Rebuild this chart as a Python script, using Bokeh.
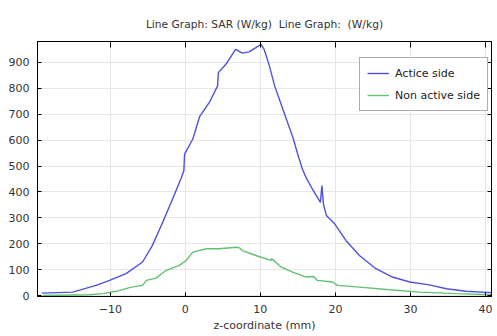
from bokeh.plotting import figure
from bokeh.models import (LinearAxis, Range1d, SingleIntervalTicker, Legend, LegendItem, Title,
                          CustomJSTickFormatter)
from bokeh.embed import file_html
from bokeh.resources import INLINE

# Data
z_active = [-19.1, -15.0, -11.9, -10.1, -7.9, -5.7, -4.4, -3.0, -1.7, -0.6, -0.2, -0.1, 1.0, 1.9,
            3.2, 4.3, 4.4, 5.4, 6.7, 7.6, 8.5, 10.1, 10.5, 11.2, 11.9, 13.0, 14.4, 14.9, 15.6,
            16.1, 16.8, 18.0, 18.2, 18.4, 18.8, 19.9, 21.4, 23.2, 25.4, 27.6, 29.9, 32.5, 34.8,
            37.4, 40.8]
sar_active = [10, 14, 40, 59, 85, 130, 193, 284, 373, 450, 482, 546, 604, 690,
              745, 809, 860, 892, 950, 935, 940, 969, 950, 886, 809, 719, 604, 553, 488,
              455, 418, 360, 425, 354, 309, 277, 213, 155, 104, 72, 53, 42, 27,
              17, 12]

z_nonactive = [-19.0, -12.8, -11.0, -9.2, -7.2, -5.7, -5.2, -3.9, -2.6, -0.8, 0.1, 1.0, 2.8,
               4.5, 6.8, 7.2, 7.6, 9.4, 11.4, 11.5, 12.8, 14.3, 16.1, 17.1, 17.6, 19.6, 20.3,
               23.2, 27.2, 31.2, 36.1, 40.8]
sar_nonactive = [1, 4, 8, 17, 33, 40, 59, 68, 97, 117, 136, 168, 181,
                 181, 187, 185, 174, 155, 136, 143, 110, 91, 72, 74, 59, 53, 40,
                 33, 23, 14, 8, 4]

title_text = "Line Graph: SAR (W/kg)\u00a0\u00a0Line Graph:\u00a0\u00a0(W/kg)"
x_label = "z-coordinate (mm)"
series_names = ["Actice side", "Non active side"]

FONT = "DejaVu Sans"
TXT = "#333333"

p = figure(width=495, height=334, output_backend="svg", toolbar_location=None,
           x_range=Range1d(-19.7, 40.8), y_range=Range1d(-3, 980),
           min_border_left=37, min_border_right=0, min_border_top=41, min_border_bottom=36,
           x_axis_label=x_label)
p.title = Title(text=title_text, align="center", text_font=FONT, text_font_size="10.7px",
                text_font_style="normal", text_color=TXT, vertical_align="top")

p.xaxis.ticker = SingleIntervalTicker(interval=10)
p.yaxis.ticker = SingleIntervalTicker(interval=100)

for ax in [p.xaxis[0], p.yaxis[0]]:
    ax.major_label_text_font = FONT
    ax.major_label_text_font_size = "11px"
    ax.major_label_text_color = TXT
    ax.axis_label_text_font = FONT
    ax.axis_label_text_font_size = "11px"
    ax.axis_label_text_font_style = "normal"
    ax.axis_label_text_color = TXT
    ax.axis_line_color = "black"
    ax.major_tick_in = 4
    ax.major_tick_out = 0
    ax.major_tick_line_color = "black"
    ax.minor_tick_line_color = None
    ax.major_label_standoff = 4
p.xaxis.axis_label_standoff = 3

blank = CustomJSTickFormatter(code="return '';")
top_ax = LinearAxis(ticker=SingleIntervalTicker(interval=10), formatter=blank,
                    major_tick_in=6, major_tick_out=0, minor_tick_line_color=None,
                    axis_line_color="black", major_label_standoff=0)
right_ax = LinearAxis(ticker=SingleIntervalTicker(interval=100), formatter=blank,
                      major_tick_in=4, major_tick_out=0, minor_tick_line_color=None,
                      axis_line_color="black", major_label_standoff=0)
p.add_layout(top_ax, "above")
p.add_layout(right_ax, "right")

p.xgrid.grid_line_color = "#e6e6e6"
p.ygrid.grid_line_color = "#e6e6e6"
p.outline_line_color = "black"
p.background_fill_color = "white"

r1 = p.line(z_active, sar_active, line_color="#5050dc", line_width=1.4)
r2 = p.line(z_nonactive, sar_nonactive, line_color="#62c072", line_width=1.4)

legend = Legend(items=[LegendItem(label=series_names[0], renderers=[r1]),
                       LegendItem(label=series_names[1], renderers=[r2])],
                location=(322, 185), label_text_font=FONT, label_text_font_size="11px",
                label_text_color="#222222", border_line_color="#555555", border_line_width=1,
                glyph_width=22, glyph_height=16, spacing=6, padding=7, margin=0,
                label_standoff=6, background_fill_alpha=1)
p.add_layout(legend, "center")

open("out.html", "w").write(file_html(p, INLINE))
